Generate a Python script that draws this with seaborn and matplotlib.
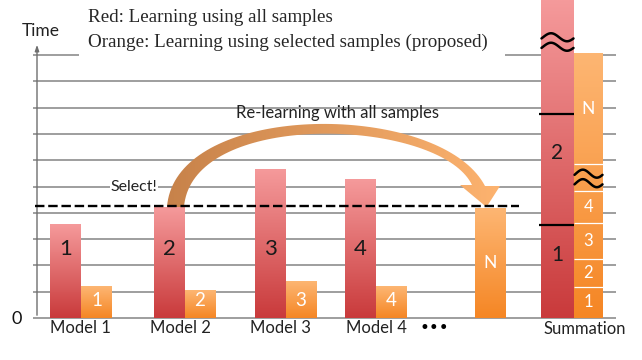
import numpy as np
import pandas as pd
import matplotlib
matplotlib.use("Agg")
import matplotlib.pyplot as plt
import seaborn as sns
from matplotlib.colors import LinearSegmentedColormap
from matplotlib.patches import Polygon, Rectangle

# ---------------- data ----------------
models = ["Model 1", "Model 2", "Model 3", "Model 4"]
time_all = [3.54, 4.22, 5.63, 5.27]          # red: learning using all samples
time_selected = [1.19, 1.06, 1.38, 1.19]     # orange: learning using selected samples
bar_labels = ["1", "2", "3", "4"]
time_relearn_N = 4.18                        # re-learning model N with all samples
sum_red_rest = 4.3                           # compressed remainder of red summation
sum_orange_gap = 1.05                        # compressed middle part of orange summation
selected_index = 1
extra_labels = ["\u2022\u2022\u2022", "Summation"]
grid_levels = list(range(0, 11))
legend_lines = ["Red: Learning using all samples",
                "Orange: Learning using selected samples (proposed)"]

# ---------------- layout (pixels) ----------------
W, H = 642, 360
U = 26.3            # pixels per time unit
BASE = 318          # pixel row of time 0
pair_centers = [81, 184.5, 285.5, 375.5]
half = 15.5
bar_w = 31
n_center = 490.5
sum_red_x, sum_red_w = 557.5, 33
sum_or_x, sum_or_w = 588.5, 29

RED_TOP, RED_BOT = "#F59A9B", "#C93A3B"
OR_TOP, OR_BOT = "#FDB673", "#F58624"
SANS = ["Lato", "DejaVu Sans"]
SERIF = ["Liberation Serif", "DejaVu Serif"]


def yu(py):
    """pixel row -> time units"""
    return (BASE - py) / U


sns.set_style("white")
fig = plt.figure(figsize=(W / 100, H / 100), dpi=100)
ax = fig.add_axes([0, 0, 1, 1])

# ---------------- bars via seaborn ----------------
xs = [c - half for c in pair_centers] + [c + half for c in pair_centers] + [n_center]
vals = list(time_all) + list(time_selected) + [time_relearn_N]
series = ["all"] * 4 + ["selected"] * 4 + ["selected"]
df = pd.DataFrame({"x": xs, "time": vals, "series": series})
min_gap = np.min(np.diff(np.unique(xs)))
sns.barplot(data=df, x="x", y="time", hue="series", native_scale=True, dodge=False,
            width=bar_w / min_gap, palette={"all": RED_BOT, "selected": OR_BOT},
            saturation=1, legend=False, errorbar=None, ax=ax)


def grad_fill(x0, x1, y0, y1, c_first, c_last, z=2, clip=None, horizontal=False):
    cmap = LinearSegmentedColormap.from_list("g", [c_first, c_last])
    a = np.linspace(0, 1, 256)
    arr = a.reshape(1, -1) if horizontal else a.reshape(-1, 1)
    im = ax.imshow(arr, extent=[x0, x1, y0, y1], origin="lower", cmap=cmap,
                   aspect="auto", zorder=z, interpolation="bilinear")
    if clip is not None:
        im.set_clip_path(clip)
    return im


red_rgb = np.array(matplotlib.colors.to_rgb(RED_BOT))
or_rgb = np.array(matplotlib.colors.to_rgb(OR_BOT))
for p in list(ax.patches):
    x0, y0 = p.get_x(), p.get_y()
    w, h = p.get_width(), p.get_height()
    fc = np.array(p.get_facecolor()[:3])
    is_red = np.sum((fc - red_rgb) ** 2) < np.sum((fc - or_rgb) ** 2)
    top, bot = (RED_TOP, RED_BOT) if is_red else (OR_TOP, OR_BOT)
    grad_fill(x0, x0 + w, y0, y0 + h, bot, top, z=2)
    p.set_visible(False)

# ---------------- summation stacks ----------------
red_segs = [time_all[0], time_all[1], sum_red_rest]
red_cum = np.cumsum(red_segs)
grad_fill(sum_red_x - sum_red_w / 2, sum_red_x + sum_red_w / 2, 0, red_cum[-1],
          RED_BOT, RED_TOP, z=2)
ax.hlines(red_cum[:2], sum_red_x - sum_red_w / 2 - 2, sum_red_x + sum_red_w / 2,
          colors="black", lw=1.6, zorder=4)

or_segs = list(time_selected) + [sum_orange_gap, time_relearn_N]
or_cum = np.cumsum(or_segs)
or_bottoms = np.concatenate([[0], or_cum[:-1]])
grad_fill(sum_or_x - sum_or_w / 2, sum_or_x + sum_or_w / 2, 0, or_cum[-1],
          OR_BOT, OR_TOP, z=2)
ax.hlines(or_cum[:-1], sum_or_x - sum_or_w / 2, sum_or_x + sum_or_w / 2,
          colors="white", lw=0.9, zorder=3)

# ---------------- gridlines & axis ----------------
ax.hlines(grid_levels, 33, 616, colors="#8E8E8E", lw=1.2, zorder=0.5)
ax.annotate("", xy=(37, yu(42)), xytext=(37, 0),
            arrowprops=dict(arrowstyle="-|>,head_length=0.35,head_width=0.12",
                            color="#6E6E6E", lw=1.0), zorder=1)
ax.text(41, yu(31), "Time", fontsize=12.5, family=SANS, ha="center", va="center", color="#222222")
ax.text(17, yu(319), "0", fontsize=13, family=SANS, ha="center", va="center", color="#111111")

# legend box (white, hides the top gridline)
ax.add_patch(Rectangle((79, yu(58)), 426, yu(0) - yu(58), facecolor="white",
                       edgecolor="none", zorder=5))
ax.text(88, yu(18), legend_lines[0], fontsize=13.7, family=SERIF, ha="left", va="center", zorder=6)
ax.text(88, yu(42), legend_lines[1], fontsize=13.7, family=SERIF, ha="left", va="center", zorder=6)

# ---------------- curved arrow ----------------
def bez(p0, p1, p2, p3, n=80):
    t = np.linspace(0, 1, n)[:, None]
    p0, p1, p2, p3 = map(np.asarray, (p0, p1, p2, p3))
    return (1 - t) ** 3 * p0 + 3 * (1 - t) ** 2 * t * p1 + 3 * (1 - t) * t ** 2 * p2 + t ** 3 * p3

start_py = BASE - time_all[selected_index] * U
tip_py = BASE - time_relearn_N * U
outer = bez((167, start_py), (175, 100), (440, 100), (485, 186))
inner = bez((184, start_py), (192, 108), (440, 118), (472, 185))
head = np.array([(500, 186), (n_center - 4, tip_py - 1), (460, 185)])
poly_px = np.vstack([outer, head, inner[::-1]])
poly = np.column_stack([poly_px[:, 0], yu(poly_px[:, 1])])
arrow_patch = Polygon(poly, closed=True, facecolor="none", edgecolor="none")
ax.add_patch(arrow_patch)
grad_fill(poly[:, 0].min(), poly[:, 0].max(), poly[:, 1].min(), poly[:, 1].max(),
          "#C7824A", "#FDB36F", z=3, clip=arrow_patch, horizontal=True)

ax.text(337, yu(113), "Re-learning with all samples", fontsize=12, family=SANS,
        ha="center", va="center", color="#222222", zorder=6)

# ---------------- selection line ----------------
ax.hlines(time_all[selected_index] + 0.04, 35, 519, colors="black", lw=1.7,
          linestyles=(0, (4, 1.6)), zorder=4)
ax.text(134, yu(187), "Select!", fontsize=11.5, family=SANS, ha="center", va="center",
        color="#222222", zorder=6,
        bbox=dict(boxstyle="square,pad=0.05", facecolor="white", edgecolor="none"))

# ---------------- bar labels ----------------
for i, lab in enumerate(bar_labels):
    ax.text(pair_centers[i] - half, 2.62, lab, fontsize=16, family=SANS, ha="center",
            va="center", color="#1A1A1A", zorder=6)
    ax.text(pair_centers[i] + half, 0.66, lab, fontsize=13.5, family=SANS, ha="center",
            va="center", color="white", zorder=6)
ax.text(n_center, time_relearn_N / 2, "N", fontsize=12.5, family=SANS, ha="center",
        va="center", color="white", zorder=6)

red_bottoms = np.concatenate([[0], red_cum[:-1]])
for k in range(2):
    ax.text(sum_red_x, red_bottoms[k] + red_segs[k] / 2 + 0.62, bar_labels[k], fontsize=15,
            family=SANS, ha="center", va="center", color="#1A1A1A", zorder=6)
for k in range(4):
    ax.text(sum_or_x, or_bottoms[k] + or_segs[k] / 2, bar_labels[k], fontsize=12,
            family=SANS, ha="center", va="center", color="white", zorder=6)
ax.text(sum_or_x, or_bottoms[5] + or_segs[5] / 2, "N", fontsize=12.5, family=SANS,
        ha="center", va="center", color="white", zorder=6)


# break marks (two thin wavy strokes)
def break_mark(xc, width, yc_px, amp=4.0, gap=9.5):
    t = np.linspace(0, 1, 60)
    xx = xc - width / 2 + width * t
    for off in (-gap / 2, gap / 2):
        yy = yc_px + off - amp * np.sin(2 * np.pi * t - 0.3)
        ax.plot(xx, yu(yy), color="black", lw=1.8, solid_capstyle="round", zorder=6)


break_mark(sum_red_x, sum_red_w - 1, 42)
break_mark(sum_or_x, sum_or_w - 1, BASE - (or_bottoms[4] + or_segs[4] / 2) * U + 1)

# ---------------- x labels ----------------
label_x = [80.5, 180, 280, 376]
for lx, name in zip(label_x, models):
    ax.text(lx, yu(328), name, fontsize=12, family=SANS, ha="center", va="center",
            color="#222222")
ax.text(434, yu(328), extra_labels[0], fontsize=12, family=["DejaVu Sans"], ha="center",
        va="center", color="black")
ax.text(585, yu(329), extra_labels[1], fontsize=12, family=SANS, ha="center",
        va="center", color="#222222")

ax.set_xlim(0, W)
ax.set_ylim(yu(H), yu(0))
ax.set_axis_off()
fig.savefig("out.png", dpi=100)
